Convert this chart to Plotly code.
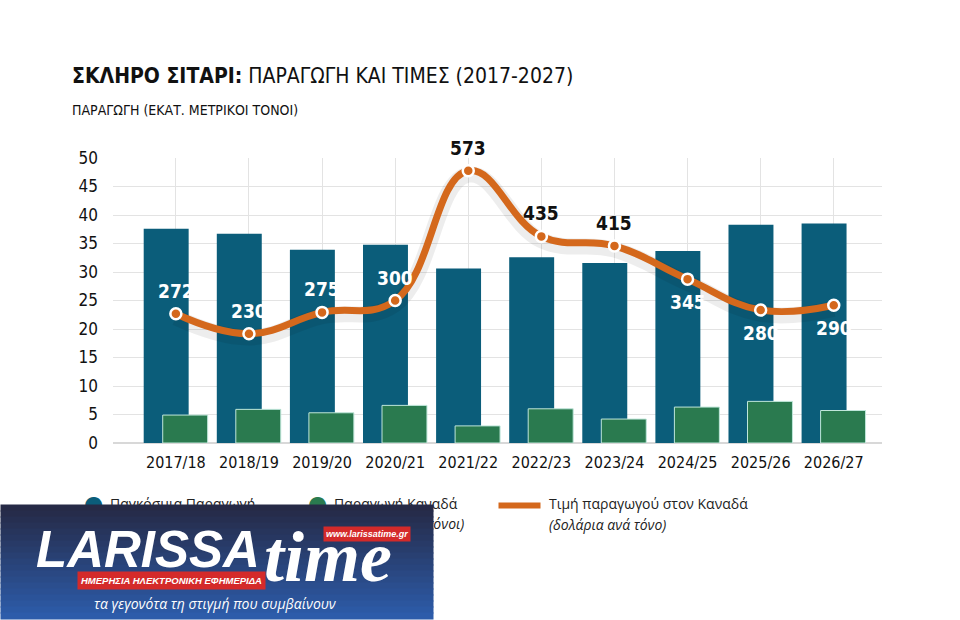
import plotly.graph_objects as go

# data
seasons = ["2017/18", "2018/19", "2019/20", "2020/21", "2021/22",
           "2022/23", "2023/24", "2024/25", "2025/26", "2026/27"]
world_prod = [37.6, 36.7, 33.9, 34.8, 30.6, 32.6, 31.6, 33.7, 38.3, 38.5]
canada_prod = [4.9, 5.9, 5.3, 6.6, 3.0, 6.0, 4.2, 6.3, 7.3, 5.7]
canada_price = [272, 230, 275, 300, 573, 435, 415, 345, 280, 290]
label_pos = ["above", "above", "above", "above", "above",
             "above", "above", "below", "below", "below"]
label_dark = [False, False, False, False, True, True, True, False, False, False]

TEAL = "#0b5d7a"
GREEN = "#2a7a4f"
ORANGE = "#d4681c"
NARROW = "DejaVu Sans Condensed, Liberation Sans Narrow, sans-serif"
ROUND = "Open Sans, Noto Sans, sans-serif"

# plot area in pixels (used to place the overlay texts)
L, R, T, B = 113, 882, 158, 443
W, H = R - L, B - T


def px(x):
    return (x - L) / W


def py(y):
    return (B - y) / H


def note(x, y, text, xa="left", ya="middle", **kw):
    return dict(x=px(x), y=py(y), xref="paper", yref="paper", xanchor=xa, yanchor=ya,
                text=text, showarrow=False, **kw)


fig = go.Figure()

fig.add_trace(go.Bar(
    x=list(range(len(seasons))), y=world_prod, name="Παγκόσμια Παραγωγή",
    marker=dict(color=TEAL, line=dict(width=0)),
    width=0.615, offset=-0.44, showlegend=False))
fig.add_trace(go.Bar(
    x=list(range(len(seasons))), y=canada_prod, name="Παραγωγή Καναδά",
    marker=dict(color=GREEN, line=dict(color="#bfe6da", width=1)),
    width=0.615, offset=-0.18, showlegend=False))

# soft shadow under the price line
fig.add_trace(go.Scatter(
    x=list(range(len(seasons))), y=[p - 8 for p in canada_price], yaxis="y2",
    mode="lines", line=dict(color="rgba(0,0,0,0.07)", width=16, shape="spline", smoothing=1.2),
    hoverinfo="skip", showlegend=False))
fig.add_trace(go.Scatter(
    x=list(range(len(seasons))), y=canada_price, yaxis="y2",
    name="Τιμή παραγωγού στον Καναδά",
    mode="lines+markers",
    line=dict(color=ORANGE, width=7, shape="spline", smoothing=1.2),
    marker=dict(color=ORANGE, size=11, line=dict(color="white", width=2.5)),
    showlegend=False))

annotations = []
for i, p in enumerate(canada_price):
    up = label_pos[i] == "above"
    annotations.append(dict(
        x=i, y=p, xref="x", yref="y2", text=f"<b>{p}</b>", showarrow=False,
        xanchor="center", yanchor="middle", yshift=23 if up else -23,
        font=dict(family=NARROW, size=19, color="#111111" if label_dark[i] else "white")))

# titles
annotations.append(note(70, 76, "<b>ΣΚΛΗΡΟ ΣΙΤΑΡΙ:</b> ΠΑΡΑΓΩΓΗ ΚΑΙ ΤΙΜΕΣ (2017-2027)",
                        font=dict(family=NARROW, size=21, color="#111111")))
annotations.append(note(70, 110, "ΠΑΡΑΓΩΓΗ (ΕΚΑΤ. ΜΕΤΡΙΚΟΙ ΤΟΝΟΙ)",
                        font=dict(family=NARROW, size=14, color="#111111")))

# legend (drawn by hand, partly hidden by the banner below)
legend_font = dict(family=ROUND, size=14, color="#222222")
for cx, col, txt in [(93, TEAL, "Παγκόσμια Παραγωγή"), (317, GREEN, "Παραγωγή Καναδά")]:
    annotations.append(note(cx, 503, "●", xa="center",
                            font=dict(family="DejaVu Sans", size=22, color=col)))
    annotations.append(note(cx + 15, 503, txt, font=legend_font))
    annotations.append(note(cx + 15, 523, "<i>(εκατ. μετρικοί τόνοι)</i>", font=legend_font))
annotations.append(note(498, 505, " ", width=41, height=5, bgcolor=ORANGE, borderpad=0,
                        font=dict(size=2)))
annotations.append(note(547, 503, "Τιμή παραγωγού στον Καναδά", font=legend_font))
annotations.append(note(547, 524, "<i>(δολάρια ανά τόνο)</i>", font=legend_font))

# logo banner (gradient built from thin strips)
top_c, bot_c = (38, 42, 70), (45, 92, 170)
n = 19
for k in range(n):
    t = k / (n - 1)
    c = tuple(int(a + (b - a) * t) for a, b in zip(top_c, bot_c))
    annotations.append(note(0, 504 + k * 6, " ", ya="top", width=432, height=6,
                            bgcolor=f"rgb{c}", borderpad=0, font=dict(size=2)))
annotations += [
    note(34, 549, "<b><i>LARISSA</i></b>",
         font=dict(family="Liberation Sans, Arial, sans-serif", size=51, color="white")),
    note(262, 557, "<b><i>time</i></b>",
         font=dict(family="Liberation Serif, DejaVu Serif, serif", size=72, color="white")),
    note(367, 534, "<b><i>www.larissatime.gr</i></b>", xa="center", bgcolor="#d42a2a",
         borderpad=2, font=dict(family="Liberation Sans, Arial, sans-serif", size=9, color="white")),
    note(171, 580, "<b><i>ΗΜΕΡΗΣΙΑ ΗΛΕΚΤΡΟΝΙΚΗ ΕΦΗΜΕΡΙΔΑ</i></b>", xa="center", bgcolor="#d42a2a",
         borderpad=3, font=dict(family="Liberation Sans, Arial, sans-serif", size=9.5, color="white")),
    note(215, 603, "<i>τα γεγονότα τη στιγμή που συμβαίνουν</i>", xa="center",
         font=dict(family=ROUND, size=14, color="white")),
]

fig.update_layout(
    width=960, height=620,
    margin=dict(l=L, r=960 - R, t=T, b=620 - B),
    paper_bgcolor="white", plot_bgcolor="white",
    barmode="overlay", showlegend=False,
    xaxis=dict(range=[-0.86, 9.66], tickmode="array", tickvals=list(range(len(seasons))),
               ticktext=seasons, showgrid=True, gridcolor="#e3e3e3", gridwidth=1,
               zeroline=False, showline=False, ticks="", ticklabelstandoff=8,
               tickfont=dict(family=NARROW, size=16, color="#111111")),
    yaxis=dict(range=[0, 50], dtick=5, showgrid=True, gridcolor="#e3e3e3", gridwidth=1,
               zeroline=True, zerolinecolor="#d8d8d8", showline=False, ticks="",
               ticklabelstandoff=14,
               tickfont=dict(family=NARROW, size=17, color="#111111")),
    yaxis2=dict(range=[0, 600], overlaying="y", side="right", visible=False),
    annotations=annotations,
)

fig.write_html("out.html", config={"displayModeBar": False},
               post_script="document.body.style.margin = '0';")
